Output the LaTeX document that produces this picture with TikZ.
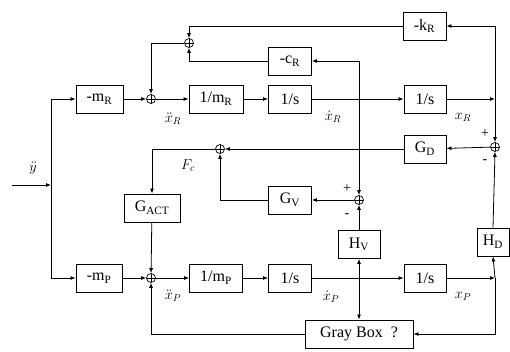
\documentclass[tikz,border=0pt]{standalone}
\usepackage{amsmath}
\usepackage{fontspec}
\setmainfont{Liberation Serif}
\usepackage{tikz}
\usetikzlibrary{arrows.meta, positioning, calc}

\begin{document}
\begin{tikzpicture}[x=1pt, y=-1pt, font=\fontsize{16}{18}\selectfont,
        block/.style={draw, line width=0.9pt, minimum height=28pt, inner sep=1pt},
        sumpt/.style={circle, draw, line width=0.7pt, minimum size=9pt, inner sep=0pt,
            path picture={\draw[line width=0.5pt]
                (path picture bounding box.north) -- (path picture bounding box.south)
                (path picture bounding box.west) -- (path picture bounding box.east);}},
        sig/.style={line width=0.8pt, -{Latex[length=5pt, width=4pt]}},
        lbl/.style={font=\fontsize{14}{16}\selectfont}
    ]
        \useasboundingbox (0,0) rectangle (510,352);
        % blocks of the R branch
        \node[block, minimum width=47pt] (mR) at (99.5,99) {-m\textsubscript{R}};
        \node[block, minimum width=54pt] (invmR) at (216,99) {1/m\textsubscript{R}};
        \node[block, minimum width=43pt] (intRa) at (290,99) {1/s};
        \node[block, minimum width=42pt] (intRb) at (425,99) {1/s};
        \node[block, minimum width=43pt] (kR) at (424.5,26) {-k\textsubscript{R}};
        \node[block, minimum width=43pt] (cR) at (290,61) {-c\textsubscript{R}};
        % controller blocks
        \node[block, minimum width=42pt] (GD) at (425,149) {G\textsubscript{D}};
        \node[block, minimum width=43pt] (GV) at (290,200) {G\textsubscript{V}};
        \node[block, minimum width=56pt] (GACT) at (152,208) {G\textsubscript{ACT}};
        \node[block, minimum width=42pt] (HV) at (359,244.5) {H\textsubscript{V}};
        \node[block, minimum width=32pt] (HD) at (493,242) {H\textsubscript{D}};
        % blocks of the P branch
        \node[block, minimum width=46pt] (mP) at (99,278) {-m\textsubscript{P}};
        \node[block, minimum width=53pt] (invmP) at (216,278) {1/m\textsubscript{P}};
        \node[block, minimum width=43pt] (intPa) at (290,278) {1/s};
        \node[block, minimum width=42pt] (intPb) at (425,278) {1/s};
        \node[block, minimum width=108pt] (gray) at (359,334) {Gray Box\ \ ?};
        % summing points
        \node[sumpt] (sumR) at (151,99) {};
        \node[sumpt] (sumP) at (151,278) {};
        \node[sumpt] (sumK) at (189,43) {};
        \node[sumpt] (sumF) at (220,149) {};
        \node[sumpt] (sumV) at (359,200) {};
        \node[sumpt] (sumD) at (495,147) {};
        % branch points
        \coordinate (yin) at (12,185);
        \coordinate (split) at (51,185);
        \coordinate (vR) at (359,99);
        \coordinate (xR) at (495,99);
        \coordinate (vP) at (359,278);
        \coordinate (xP) at (495,278);

        % input
        \draw[sig] (yin) -- (split);
        \draw[sig] (split) |- (mR.west);
        \draw[sig] (split) |- (mP.west);
        % R chain
        \draw[sig] (mR) -- (sumR);
        \draw[sig] (sumR) -- (invmR);
        \draw[sig] (invmR) -- (intRa);
        \draw[sig] (intRa) -- (intRb);
        \draw[sig] (intRb) -- (xR);
        \draw[sig] (vR) |- (cR.east);
        \draw[sig] (vR) -- (sumV.north);
        \draw[sig] (xR) |- (kR.east);
        \draw[sig] (xR) -- (sumD.north);
        \draw[sig] (kR.west) -| (sumK.north);
        \draw[sig] (cR.west) -| (sumK.south);
        \draw[sig] (sumK.west) -| (sumR.north);
        % controller
        \draw[sig] (sumD) -- (GD);
        \draw[sig] (GD) -- (sumF);
        \draw[sig] (sumF.west) -| (GACT.north);
        \draw[sig] (GACT) -- (sumP);
        \draw[sig] (sumV) -- (GV);
        \draw[sig] (GV.west) -| (sumF.south);
        \draw[sig] (HV) -- (sumV);
        \draw[sig] (HD.north) -- (sumD.south);
        % P chain
        \draw[sig] (mP) -- (sumP);
        \draw[sig] (sumP) -- (invmP);
        \draw[sig] (invmP) -- (intPa);
        \draw[sig] (intPa) -- (intPb);
        \draw[sig] (intPb) -- (xP);
        \draw[sig] (vP) -- (HV.south);
        \draw[sig] (vP) -- (gray.north);
        \draw[sig] (xP) -- (HD.south);
        \draw[sig] (xP) |- (gray.east);
        \draw[sig] (gray.west) -| (sumP.south);

        % signal labels
        \node[lbl] (lydd) at (33,168) {$\ddot{y}$};
        \node[lbl] (lxRdd) at (173,119) {$\ddot{x}_R$};
        \node[lbl] (lxRd) at (333,117) {$\dot{x}_R$};
        \node[lbl] (lxR) at (463,117) {$x_R$};
        \node[lbl] (lFc) at (188,166) {$F_c$};
        \node[lbl] (lxPdd) at (173,296) {$\ddot{x}_P$};
        \node[lbl] (lxPd) at (331,297) {$\dot{x}_P$};
        \node[lbl] (lxP) at (463,296) {$x_P$};
        \node[lbl] (pD) at (485,134) {+};
        \node[lbl] (mD) at (485,162) {-};
        \node[lbl] (pV) at (347,189) {+};
        \node[lbl] (mV) at (347,216) {-};
    \end{tikzpicture}
\end{document}
